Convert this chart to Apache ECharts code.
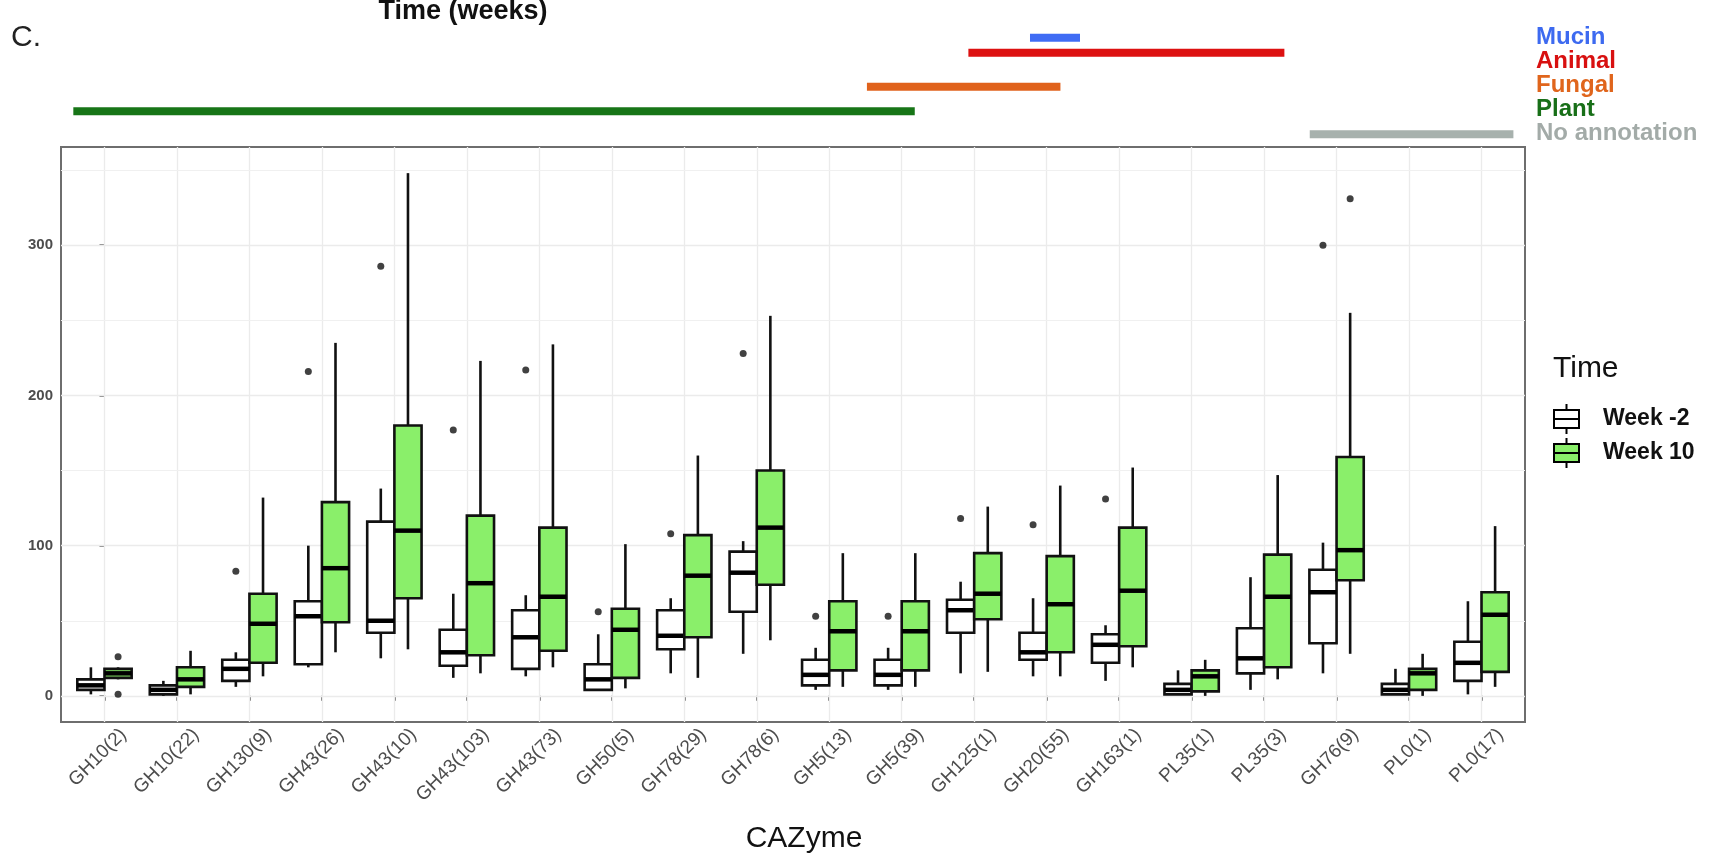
<!DOCTYPE html>
<html>
<head>
<meta charset="utf-8">
<title>CAZyme boxplot</title>
<script src="https://cdn.jsdelivr.net/npm/echarts@6/dist/echarts.min.js"></script>
<style>
  html, body { margin: 0; padding: 0; background: #fff; }
  #chart { width: 1716px; height: 856px; }
</style>
</head>
<body>
<div id="chart"></div>
<script>
// 类别 (x 轴)
var categories = ['GH10(2)', 'GH10(22)', 'GH130(9)', 'GH43(26)', 'GH43(10)', 'GH43(103)', 'GH43(73)', 'GH50(5)', 'GH78(29)', 'GH78(6)',
	'GH5(13)', 'GH5(39)', 'GH125(1)', 'GH20(55)', 'GH163(1)', 'PL35(1)', 'PL35(3)', 'GH76(9)', 'PL0(1)', 'PL0(17)'];
// 每个箱子: [下须, Q1, 中位数, Q3, 上须]
var week2 = [
	[1, 4, 7, 11, 19], [0, 1, 4, 7, 10], [6, 10, 18, 24, 29], [19, 21, 53, 63, 100], [25, 42, 50, 116, 138],
	[12, 20, 29, 44, 68], [13, 18, 39, 57, 67], [4, 4, 11, 21, 41], [15, 31, 40, 57, 65], [28, 56, 82, 96, 103],
	[4, 7, 14, 24, 32], [4, 7, 14, 24, 32], [15, 42, 57, 64, 76], [13, 24, 29, 42, 65], [10, 22, 34, 41, 47],
	[1, 1, 4, 8, 17], [4, 15, 25, 45, 79], [15, 35, 69, 84, 102], [1, 1, 4, 8, 18], [1, 10, 22, 36, 63]
];
var week10 = [
	[11, 12, 15, 18, 19], [1, 6, 11, 19, 30], [13, 22, 48, 68, 132], [29, 49, 85, 129, 235], [31, 65, 110, 180, 348],
	[15, 27, 75, 120, 223], [19, 30, 66, 112, 234], [5, 12, 44, 58, 101], [12, 39, 80, 107, 160], [37, 74, 112, 150, 253],
	[6, 17, 43, 63, 95], [6, 17, 43, 63, 95], [16, 51, 68, 95, 126], [13, 29, 61, 93, 140], [19, 33, 70, 112, 152],
	[0, 3, 13, 17, 24], [11, 19, 66, 94, 147], [28, 77, 97, 159, 255], [0, 4, 15, 18, 28], [6, 16, 54, 69, 113]
];
// 离群点: [类别序号, 数值]
var outWeek2 = [[2, 83], [3, 216], [4, 286], [5, 177], [6, 217], [7, 56], [8, 108], [9, 228],
	[10, 53], [11, 53], [12, 118], [13, 114], [14, 131], [17, 300]];
var outWeek10 = [[0, 26], [0, 1], [17, 331]];
// 刻度
var yTicks = [0, 100, 200, 300];
var yMinor = [50, 150, 250, 350];
// 顶部注释条
var annotNames = ['Mucin', 'Animal', 'Fungal', 'Plant', 'No annotation'];
var annotStart = [12.77, 11.92, 10.52, -0.43, 16.63];
var annotEnd = [13.46, 16.28, 13.19, 11.18, 19.44];
var annotLevel = [0, 0.63, 2.05, 3.08, 4.05];
var annotColors = ['#3f6cf4', '#dd1111', '#e0621c', '#177517', '#a7b1ad'];
var annotTextColors = ['#3d6af0', '#d81010', '#e0651c', '#186f18', '#a3aba8'];

(function () {
	var font = 'Liberation Sans, Arial, sans-serif';
	var boxWidth = 0.375;   // 每组两个箱子, 宽度 0.75
	var dodge = 0.1875;
	var labelShift = 0.17;
	var myChart = echarts.init(document.getElementById('chart'));

	// 箱线图 用 custom 画
	function boxRenderer(offset, fill) {
		return function (params, api) {
			var x = api.value(0) + offset;
			var lo = api.coord([x, api.value(1)]);
			var q1 = api.coord([x, api.value(2)]);
			var md = api.coord([x, api.value(3)]);
			var q3 = api.coord([x, api.value(4)]);
			var hi = api.coord([x, api.value(5)]);
			var w = api.size([boxWidth, 0])[0];
			var ls = { stroke: '#111', lineWidth: 2.6 };
			return {
				type: 'group',
				children: [
					{ type: 'line', shape: { x1: lo[0], y1: lo[1], x2: q1[0], y2: q1[1] }, style: ls },
					{ type: 'line', shape: { x1: q3[0], y1: q3[1], x2: hi[0], y2: hi[1] }, style: ls },
					{ type: 'rect', shape: { x: q3[0] - w / 2, y: q3[1], width: w, height: q1[1] - q3[1] },
						style: { fill: fill, stroke: '#111', lineWidth: 2.6 } },
					{ type: 'line', shape: { x1: md[0] - w / 2, y1: md[1], x2: md[0] + w / 2, y2: md[1] },
						style: { stroke: '#000', lineWidth: 4.5 } }
				]
			};
		};
	}

	var rich = {};
	annotNames.forEach(function (n, i) {
		rich['a' + i] = { color: annotTextColors[i], fontSize: 24, fontWeight: 'bold', fontFamily: font };
	});

	// 网格线 (markLine)
	var gridLines = [];
	categories.forEach(function (c, i) {
		gridLines.push({ xAxis: i, lineStyle: { color: '#ebebeb', width: 1.3, type: 'solid' } });
	});
	yTicks.forEach(function (v) {
		gridLines.push({ yAxis: v, lineStyle: { color: '#ebebeb', width: 1.3, type: 'solid' } });
	});
	yMinor.forEach(function (v) {
		gridLines.push({ yAxis: v, lineStyle: { color: '#f0f0f0', width: 1, type: 'solid' } });
	});

	var option = {
		animation: false,
		title: [
			{ text: 'C.', left: 11, top: 23, padding: 0,
				textStyle: { fontSize: 30, fontWeight: 'normal', color: '#222', fontFamily: font } },
			{ text: 'Time (weeks)', left: 463, top: -2, padding: 0, textAlign: 'center',
				textStyle: { fontSize: 27, fontWeight: 'bold', color: '#111', fontFamily: font } },
			{ text: 'CAZyme', left: 804, top: 824, padding: 0, textAlign: 'center',
				textStyle: { fontSize: 30, fontWeight: 'normal', color: '#111', fontFamily: font } },
			{ text: 'Time', left: 1553, top: 354, padding: 0,
				textStyle: { fontSize: 30, fontWeight: 'normal', color: '#111', fontFamily: font } }
		],
		legend: {
			data: ['Week -2', 'Week 10'],
			orient: 'vertical',
			left: 1553,
			top: 403,
			padding: 0,
			itemGap: 2,
			itemWidth: 27,
			itemHeight: 30,
			icon: 'path://M13.5,0L13.5,6M1,6L26,6L26,24L1,24ZM1,15L26,15M13.5,24L13.5,30',
			itemStyle: { borderColor: '#000', borderWidth: 2 },
			textStyle: { fontSize: 23, fontWeight: 'bold', color: '#111', fontFamily: font, padding: [0, 0, 0, 18] }
		},
		grid: [
			{ left: 61, top: 147, width: 1464, height: 575, show: true, borderColor: '#6e6e6e', borderWidth: 2,
				outerBoundsMode: 'none' },
			{ left: 61, top: 14, width: 1464, height: 131, show: false, outerBoundsMode: 'none' }
		],
		xAxis: [
			{
				type: 'value', gridIndex: 0, min: -0.6, max: 19.6,
				axisLine: { show: false },
				splitLine: { show: false },
				axisTick: { show: true, length: 5, customValues: categories.map(function (c, i) { return i; }),
					lineStyle: { color: '#555', width: 1.5 } },
				axisLabel: {
					customValues: categories.map(function (c, i) { return i + labelShift; }),
					formatter: function (v) { return categories[Math.round(v - labelShift)]; },
					rotate: 45, margin: 3, verticalAlign: 'top',
					fontSize: 19, color: '#4d4d4d', fontFamily: font
				}
			},
			{ type: 'value', gridIndex: 1, min: -0.6, max: 19.6, show: false }
		],
		yAxis: [
			{
				type: 'value', gridIndex: 0, min: -17.4, max: 365.4,
				axisLine: { show: false },
				splitLine: { show: false },
				axisTick: { show: true, length: 5, customValues: yTicks, lineStyle: { color: '#555', width: 1.5 } },
				axisLabel: { customValues: yTicks, margin: 8, fontSize: 15, fontWeight: 'bold', color: '#4d4d4d', fontFamily: font }
			},
			{
				type: 'value', gridIndex: 1, min: -1, max: 4.5, inverse: true, position: 'right',
				axisLine: { show: false },
				axisTick: { show: false },
				splitLine: { show: false },
				axisLabel: {
					customValues: annotNames.map(function (n, i) { return i; }),
					margin: 11,
					formatter: function (v) { return '{a' + v + '|' + annotNames[v] + '}'; },
					rich: rich
				}
			}
		],
		series: [
			{
				name: 'Week -2',
				type: 'custom',
				xAxisIndex: 0, yAxisIndex: 0,
				z: 2,
				itemStyle: { color: '#ffffff', borderColor: '#000', borderWidth: 2 },
				encode: { x: 0, y: [1, 2, 3, 4, 5] },
				renderItem: boxRenderer(-dodge, '#ffffff'),
				data: week2.map(function (d, i) { return [i].concat(d); })
			},
			{
				name: 'Week 10',
				type: 'custom',
				xAxisIndex: 0, yAxisIndex: 0,
				z: 2,
				itemStyle: { color: '#8aef6a', borderColor: '#000', borderWidth: 2 },
				encode: { x: 0, y: [1, 2, 3, 4, 5] },
				renderItem: boxRenderer(dodge, '#8aef6a'),
				data: week10.map(function (d, i) { return [i].concat(d); })
			},
			{
				name: 'outliers -2',
				type: 'scatter',
				xAxisIndex: 0, yAxisIndex: 0,
				z: 3,
				symbolSize: 7,
				itemStyle: { color: '#111' },
				data: outWeek2.map(function (d) { return [d[0] - dodge, d[1]]; }),
				markLine: {
					silent: true, z: 1, animation: false,
					symbol: ['none', 'none'],
					label: { show: false },
					data: gridLines
				}
			},
			{
				name: 'outliers 10',
				type: 'scatter',
				xAxisIndex: 0, yAxisIndex: 0,
				z: 3,
				symbolSize: 7,
				itemStyle: { color: '#111' },
				data: outWeek10.map(function (d) { return [d[0] + dodge, d[1]]; })
			},
			{
				name: 'annotation',
				type: 'custom',
				xAxisIndex: 1, yAxisIndex: 1,
				encode: { x: [0, 1], y: 2 },
				renderItem: function (params, api) {
					var p1 = api.coord([api.value(0), api.value(2)]);
					var p2 = api.coord([api.value(1), api.value(2)]);
					return {
						type: 'line',
						shape: { x1: p1[0], y1: p1[1], x2: p2[0], y2: p2[1] },
						style: { stroke: annotColors[api.value(3)], lineWidth: 8 }
					};
				},
				data: annotNames.map(function (n, i) { return [annotStart[i], annotEnd[i], annotLevel[i], i]; })
			}
		]
	};

	myChart.setOption(option);
	window.addEventListener('resize', function () {
		myChart.resize();
	});
})();
</script>
</body>
</html>
